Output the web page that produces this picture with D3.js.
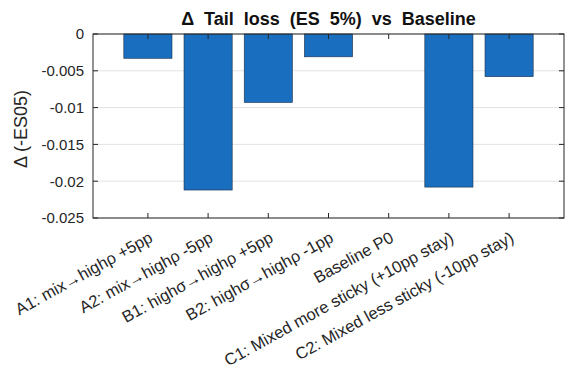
<!DOCTYPE html>
<html>
<head>
<meta charset="utf-8">
<script src="https://cdn.jsdelivr.net/npm/d3@7"></script>
<style>
  body { margin: 0; background: #fff; }
  text { font-family: "Liberation Sans", Arial, sans-serif; }
</style>
</head>
<body>
<div id="chart"></div>
<script>
// data
var categories = ["A1: mix\u2192high\u03c1 +5pp", "A2: mix\u2192high\u03c1 -5pp", "B1: high\u03c3\u2192high\u03c1 +5pp",
  "B2: high\u03c3\u2192high\u03c1 -1pp", "Baseline P0", "C1: Mixed more sticky (+10pp stay)", "C2: Mixed less sticky (-10pp stay)"];
var deltaES = [-0.0033, -0.0212, -0.0093, -0.0031, 0, -0.0208, -0.0058];
var yTicks = [0, -0.005, -0.01, -0.015, -0.02, -0.025];
var yTickLabels = ["0", "-0.005", "-0.01", "-0.015", "-0.02", "-0.025"];

var W = 570, H = 372;
var margin = {top: 34, right: 6, bottom: 154, left: 93};
var visWidth = W - margin.left - margin.right;
var visHeight = H - margin.top - margin.bottom;

var svg = d3.select("#chart").append("svg")
  .attr("width", W)
  .attr("height", H);

var g = svg.append("g")
  .attr("transform", "translate(" + margin.left + "," + margin.top + ")");

var xscale = d3.scaleLinear()
  .domain([0.088, categories.length + 0.912])
  .range([0, visWidth]);

var yscale = d3.scaleLinear()
  .domain([-0.025, 0])
  .range([visHeight, 0]);

var axisColor = "#262626";

// grid lines
g.selectAll(".grid")
  .data(yTicks)
  .join("line")
    .attr("class", "grid")
    .attr("x1", 0)
    .attr("x2", visWidth)
    .attr("y1", function(d) { return yscale(d); })
    .attr("y2", function(d) { return yscale(d); })
    .attr("stroke", "#e3e3e3")
    .attr("stroke-width", 1);

// bars
var bw = xscale(1.8) - xscale(1);
g.selectAll("rect.bar")
  .data(deltaES)
  .join("rect")
    .attr("class", "bar")
    .attr("x", function(d, i) { return xscale(i + 1) - bw / 2; })
    .attr("y", function(d) { return yscale(Math.max(0, d)); })
    .attr("width", bw)
    .attr("height", function(d) { return Math.abs(yscale(d) - yscale(0)); })
    .attr("fill", "#1a6ebf")
    .attr("stroke", "#1b2f48")
    .attr("stroke-width", 0.6);

// left axis
var yAxis = g.append("g")
  .call(d3.axisLeft(yscale).tickValues(yTicks)
    .tickFormat(function(d, i) { return yTickLabels[i]; })
    .tickSize(0).tickPadding(9));
yAxis.select(".domain").remove();
yAxis.selectAll("text").attr("font-size", "15px").attr("fill", axisColor);

// inner tick marks left & right
g.selectAll(".ytk")
  .data(yTicks)
  .join("line")
    .attr("x1", 0).attr("x2", 5)
    .attr("y1", function(d) { return yscale(d); })
    .attr("y2", function(d) { return yscale(d); })
    .attr("stroke", axisColor);
g.selectAll(".ytkr")
  .data(yTicks)
  .join("line")
    .attr("x1", visWidth).attr("x2", visWidth - 5)
    .attr("y1", function(d) { return yscale(d); })
    .attr("y2", function(d) { return yscale(d); })
    .attr("stroke", axisColor);

// x tick marks top & bottom
var idx = d3.range(1, categories.length + 1);
g.selectAll(".xtk")
  .data(idx)
  .join("line")
    .attr("x1", function(d) { return xscale(d); })
    .attr("x2", function(d) { return xscale(d); })
    .attr("y1", visHeight).attr("y2", visHeight - 5)
    .attr("stroke", axisColor);
g.selectAll(".xtkt")
  .data(idx)
  .join("line")
    .attr("x1", function(d) { return xscale(d); })
    .attr("x2", function(d) { return xscale(d); })
    .attr("y1", 0).attr("y2", 5)
    .attr("stroke", axisColor);

// box
g.append("rect")
  .attr("x", 0).attr("y", 0)
  .attr("width", visWidth).attr("height", visHeight)
  .attr("fill", "none")
  .attr("stroke", axisColor)
  .attr("stroke-width", 1);

// x labels, rotated
g.selectAll(".xlab")
  .data(categories)
  .join("text")
    .attr("class", "xlab")
    .attr("transform", function(d, i) {
      return "translate(" + (xscale(i + 1) + 6) + "," + (visHeight + 23) + ") rotate(-29)";
    })
    .attr("text-anchor", "end")
    .attr("font-size", "16.5px")
    .attr("fill", axisColor)
    .text(function(d) { return d; });

// title
svg.append("text")
  .attr("x", margin.left + visWidth / 2)
  .attr("y", 25)
  .attr("text-anchor", "middle")
  .attr("font-size", "18px")
  .attr("font-weight", "bold")
  .attr("fill", "#111")
  .attr("xml:space", "preserve")
  .style("white-space", "pre")
  .text("\u0394  Tail  loss  (ES  5%)  vs  Baseline");

// y label
svg.append("text")
  .attr("transform", "translate(27," + (margin.top + visHeight / 2 + 3) + ") rotate(-90)")
  .attr("text-anchor", "middle")
  .attr("font-size", "18px")
  .attr("fill", axisColor)
  .text("\u0394 (-ES05)");
</script>
</body>
</html>
